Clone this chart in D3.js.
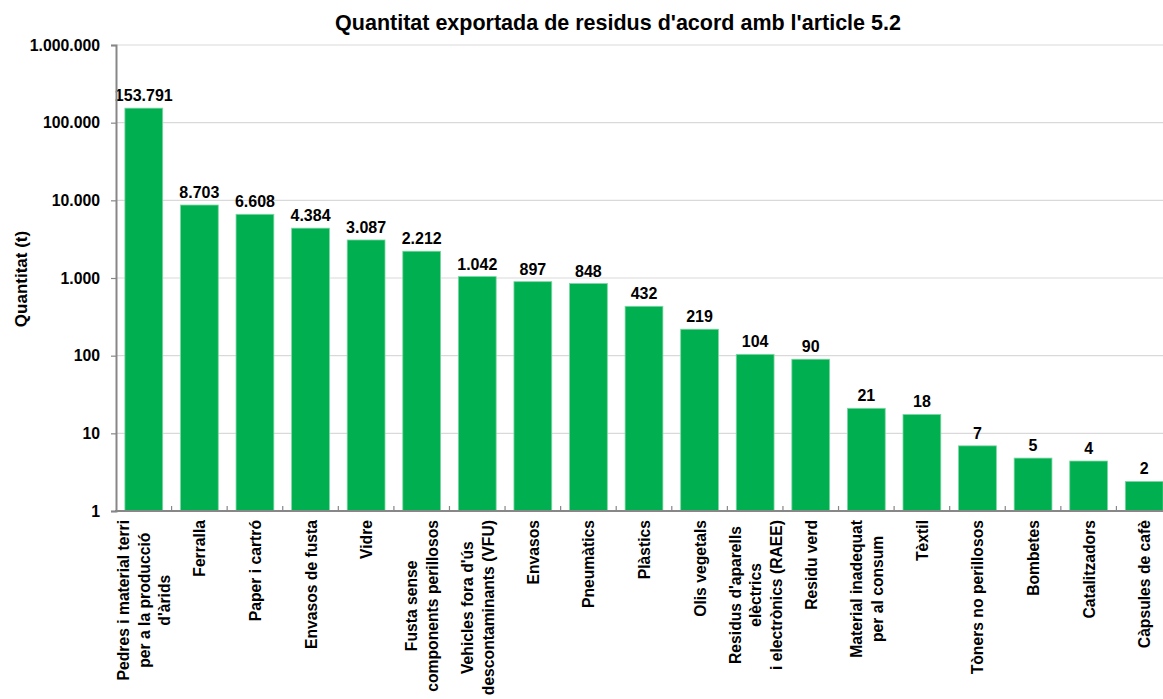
<!DOCTYPE html>
<html>
<head>
<meta charset="utf-8">
<script src="https://cdn.jsdelivr.net/npm/d3@7"></script>
<style>
	body { margin: 0; background: #fff; }
	text { font-family: "Liberation Sans", Arial, sans-serif; font-weight: bold; fill: #000; }
</style>
</head>
<body>
<svg id="chart" width="1163" height="699"></svg>
<script>
/*
 * Quantitat exportada de residus (log scale bar chart)
 */

// ** Data **
const categories = [
	"Pedres i material terri\nper a la producció\nd'àrids",
	"Ferralla",
	"Paper i cartró",
	"Envasos de fusta",
	"Vidre",
	"Fusta sense\ncomponents perillosos",
	"Vehicles fora d'ús\ndescontaminants (VFU)",
	"Envasos",
	"Pneumàtics",
	"Plàstics",
	"Olis vegetals",
	"Residus d'aparells\nelèctrics\ni electrònics (RAEE)",
	"Residu verd",
	"Material inadequat\nper al consum",
	"Tèxtil",
	"Tòners no perillosos",
	"Bombetes",
	"Catalitzadors",
	"Càpsules de cafè"
];
const values = [153791, 8703, 6608, 4384, 3087, 2212, 1042, 897, 848, 432,
	219, 104, 90, 21, 17.5, 6.9, 4.8, 4.4, 2.4];
const yTicks = [1, 10, 100, 1000, 10000, 100000, 1000000];
const chartTitle = "Quantitat exportada de residus d'acord amb l'article 5.2";
const yTitle = "Quantitat (t)";

// ** Constants **
const W = 1163, H = 699;
const plotLeft = 116, plotRight = 1172, plotTop = 45, plotBottom = 511;
const barColor = "#00b050";
const axisColor = "#878787";
const gridColor = "#d9d9d9";
const lineGap = 20.5;   // spacing of wrapped category lines

var svg = d3.select("#chart");

// catalan number format: 1.000.000
var locale = d3.formatLocale({ decimal: ",", thousands: ".", grouping: [3], currency: ["", " €"] });
var fmt = locale.format(",.0f");

var x = d3.scaleBand()
	.domain(categories)
	.range([plotLeft, plotRight])
	.paddingInner(0.32)
	.paddingOuter(0.16);

var y = d3.scaleLog()
	.domain([1, 1000000])
	.range([plotBottom, plotTop]);

// gridlines
svg.append("g")
	.selectAll("line")
	.data(yTicks.slice(1))
	.join("line")
	.attr("x1", plotLeft)
	.attr("x2", W)
	.attr("y1", d => y(d))
	.attr("y2", d => y(d))
	.style("stroke", gridColor)
	.style("stroke-width", 1.2);

// bars
svg.append("g")
	.selectAll("rect")
	.data(values)
	.join("rect")
	.attr("x", (d, i) => x(categories[i]))
	.attr("width", x.bandwidth())
	.attr("y", d => y(d))
	.attr("height", d => y(1) - y(d))
	.style("fill", barColor)
	.style("stroke", "#7dd6a2")
	.style("stroke-width", 0.8);

// value labels
svg.append("g")
	.selectAll("text")
	.data(values)
	.join("text")
	.attr("x", (d, i) => x(categories[i]) + x.bandwidth() / 2)
	.attr("y", d => y(d) - 7)
	.attr("text-anchor", "middle")
	.style("font-size", "16px")
	.text(d => fmt(Math.round(d)));

// y axis
var yAxis = svg.append("g")
	.attr("transform", `translate(${plotLeft},0)`)
	.call(d3.axisLeft(y).tickValues(yTicks).tickFormat(fmt).tickSize(5).tickPadding(11));
yAxis.select(".domain").style("stroke", axisColor).style("stroke-width", 2);
yAxis.selectAll(".tick line").style("stroke", axisColor).style("stroke-width", 1.2);
yAxis.selectAll(".tick text")
	.style("font-family", '"Liberation Sans", Arial, sans-serif')
	.style("font-weight", "bold")
	.style("font-size", "15.8px")
	.style("fill", "#000");

// x axis line and category separators (ticks point up)
var xAxis = svg.append("g");
xAxis.append("line")
	.attr("x1", plotLeft - 1)
	.attr("x2", W)
	.attr("y1", plotBottom)
	.attr("y2", plotBottom)
	.style("stroke", axisColor)
	.style("stroke-width", 2);
xAxis.selectAll("line.sep")
	.data(categories.slice(1))
	.join("line")
	.attr("class", "sep")
	.attr("x1", d => x(d) - x.step() * x.paddingInner() / 2)
	.attr("x2", d => x(d) - x.step() * x.paddingInner() / 2)
	.attr("y1", plotBottom)
	.attr("y2", plotBottom - 5)
	.style("stroke", axisColor)
	.style("stroke-width", 1.2);

// category labels, rotated, lines centred on each other
categories.forEach(function(cat) {
	let lines = cat.split("\n");
	let cx = x(cat) + x.bandwidth() / 2;
	let g = svg.append("g")
		.attr("transform", `translate(${cx},${plotBottom + 9}) rotate(-90)`);
	let texts = g.selectAll("text")
		.data(lines)
		.join("text")
		.attr("text-anchor", "middle")
		.attr("y", (d, i) => (i - (lines.length - 1) / 2) * lineGap + 6)
		.style("font-size", "15.7px")
		.text(d => d);
	let maxLen = d3.max(texts.nodes(), n => n.getComputedTextLength());
	texts.attr("x", -maxLen / 2);
});

// title
svg.append("text")
	.attr("x", 618)
	.attr("y", 30)
	.attr("text-anchor", "middle")
	.style("font-size", "21.5px")
	.text(chartTitle);

// y title
svg.append("text")
	.attr("transform", "translate(27,279) rotate(-90)")
	.attr("text-anchor", "middle")
	.style("font-size", "17px")
	.text(yTitle);
</script>
</body>
</html>
